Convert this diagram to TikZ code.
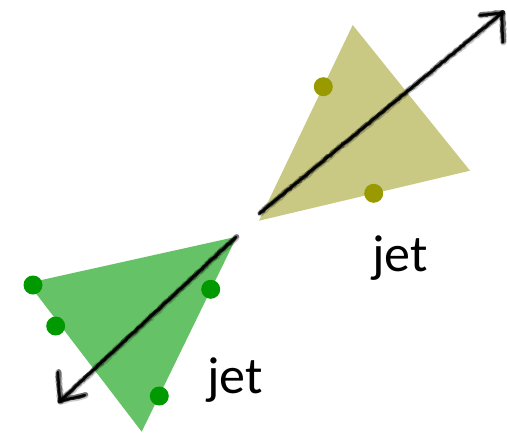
\documentclass[tikz,border=0pt]{standalone}
\usepackage{fontspec}
\setmainfont{Carlito}
\usetikzlibrary{decorations.pathmorphing}
\definecolor{olivefill}{RGB}{201,201,131}
\definecolor{olivedot}{RGB}{153,153,0}
\definecolor{greenfill}{RGB}{102,194,102}
\definecolor{greendot}{RGB}{0,153,0}
\newcommand{\charcoal}[2]{%
  \draw[stroke, line width=6.5pt, opacity=0.2, decorate] ([shift={(0.4,0.3)}]#1) -- ([shift={(0.4,0.3)}]#2);
  \draw[stroke, line width=4.5pt, opacity=0.45, decorate] ([shift={(0.8,-0.6)}]#1) -- ([shift={(0.8,-0.6)}]#2);
  \draw[stroke, line width=3pt, opacity=0.7, decorate] ([shift={(-0.7,0.7)}]#1) -- ([shift={(-0.7,0.7)}]#2);
  \draw[stroke, line width=2.2pt, opacity=0.9] (#1) -- (#2);
}
\tikzset{
  stroke/.style={black, line cap=round, decoration={random steps, segment length=2.5pt, amplitude=0.6pt}},
  dot/.style={circle, inner sep=0pt, minimum size=19pt},
  label/.style={inner sep=0pt, anchor=base west, font=\fontsize{52}{52}\selectfont}
}
\begin{document}
\begin{tikzpicture}[x=1pt, y=-1pt]
\pgfmathsetseed{7}
\useasboundingbox (0,0) rectangle (507,432);
% olive triangle
\coordinate (oA) at (352.7,25);
\coordinate (oB) at (470,170.7);
\coordinate (oC) at (259,220.7);
\fill[olivefill] (oA) -- (oB) -- (oC) -- cycle;
\node[dot, fill=olivedot] (od1) at (323.3,86.7) {};
\node[dot, fill=olivedot] (od2) at (373.7,193.3) {};
% green triangle
\coordinate (gA) at (236.7,236.7);
\coordinate (gB) at (28,283);
\coordinate (gC) at (141.7,431.7);
\fill[greenfill] (gA) -- (gB) -- (gC) -- cycle;
\node[dot, fill=greendot] (gd1) at (33,285) {};
\node[dot, fill=greendot] (gd2) at (55.7,326) {};
\node[dot, fill=greendot] (gd3) at (210.7,289.3) {};
\node[dot, fill=greendot] (gd4) at (159.3,396) {};
% upper arrow
\coordinate (uS) at (260,213);
\coordinate (uT) at (502,13);
\coordinate (uL) at (480,15);
\coordinate (uR) at (503,42);
\charcoal{uS}{uT}
\charcoal{uT}{uL}
\charcoal{uT}{uR}
% lower arrow
\coordinate (lS) at (236,237);
\coordinate (lT) at (60,401);
\coordinate (lU) at (58,372);
\coordinate (lR) at (85,395);
\charcoal{lS}{lT}
\charcoal{lT}{lU}
\charcoal{lT}{lR}
% labels
\node[label] (j1) at (372,271) {jet};
\node[label] (j2) at (207,393) {jet};
\end{tikzpicture}
\end{document}
